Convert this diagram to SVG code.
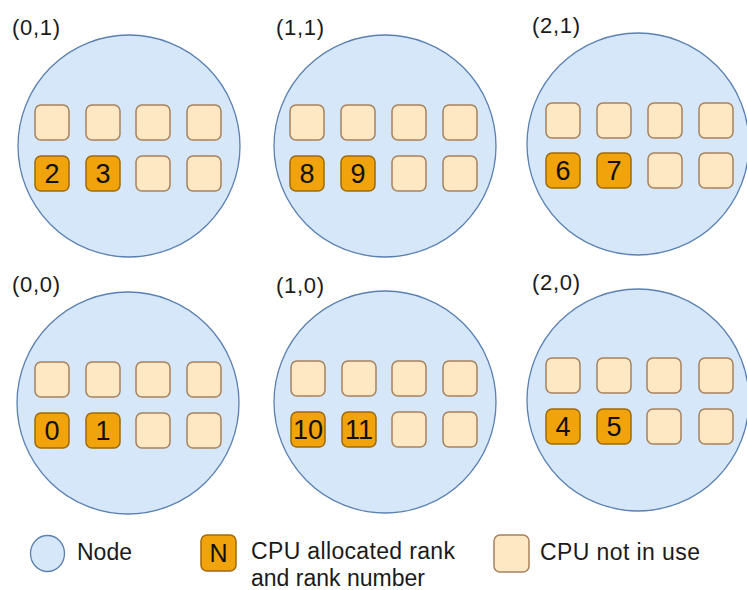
<svg xmlns="http://www.w3.org/2000/svg" width="747" height="590" viewBox="0 0 747 590">
<style>
.node{fill:#d6e7fa;stroke:#5b80b2;stroke-width:1.3}
.free{fill:#fee8c3;stroke:#a8815c;stroke-width:1.5}
.used{fill:#f0a30a;stroke:#a0690a;stroke-width:1.5}
.lbl{font-family:"Liberation Sans",Arial,sans-serif;font-size:22px;fill:#1a1a1a}
.num{font-family:"Liberation Sans",Arial,sans-serif;font-size:27px;fill:#111;text-anchor:middle}
.leg{font-family:"Liberation Sans",Arial,sans-serif;font-size:23px;fill:#1a1a1a}
</style>
<defs>
<rect id="sq" width="34" height="35" rx="6"/>
</defs>
<rect width="747" height="590" fill="#fff"/>

<g id="node-0-1">
<text class="lbl" x="12" y="35" textLength="48">(0,1)</text>
<circle class="node" cx="129" cy="146" r="111"/>
<use href="#sq" class="free" x="35" y="105"/><use href="#sq" class="free" x="86" y="105"/><use href="#sq" class="free" x="136" y="105"/><use href="#sq" class="free" x="187" y="105"/>
<use href="#sq" class="used" x="35" y="156"/><use href="#sq" class="used" x="86" y="156"/><use href="#sq" class="free" x="136" y="156"/><use href="#sq" class="free" x="187" y="156"/>
<text class="num" x="52" y="183">2</text><text class="num" x="103" y="183">3</text>
</g>

<g id="node-1-1">
<text class="lbl" x="276" y="35" textLength="48">(1,1)</text>
<circle class="node" cx="385" cy="146" r="111"/>
<use href="#sq" class="free" x="290" y="105"/><use href="#sq" class="free" x="341" y="105"/><use href="#sq" class="free" x="392" y="105"/><use href="#sq" class="free" x="443" y="105"/>
<use href="#sq" class="used" x="290" y="156"/><use href="#sq" class="used" x="341" y="156"/><use href="#sq" class="free" x="392" y="156"/><use href="#sq" class="free" x="443" y="156"/>
<text class="num" x="307" y="183">8</text><text class="num" x="358" y="183">9</text>
</g>

<g id="node-2-1">
<text class="lbl" x="532" y="33" textLength="48">(2,1)</text>
<circle class="node" cx="638" cy="144" r="111"/>
<use href="#sq" class="free" x="546" y="103"/><use href="#sq" class="free" x="597" y="103"/><use href="#sq" class="free" x="648" y="103"/><use href="#sq" class="free" x="699" y="103"/>
<use href="#sq" class="used" x="546" y="153"/><use href="#sq" class="used" x="597" y="153"/><use href="#sq" class="free" x="648" y="153"/><use href="#sq" class="free" x="699" y="153"/>
<text class="num" x="563" y="180">6</text><text class="num" x="614" y="180">7</text>
</g>

<g id="node-0-0">
<text class="lbl" x="12" y="292" textLength="48">(0,0)</text>
<circle class="node" cx="128" cy="403" r="111"/>
<use href="#sq" class="free" x="35" y="362"/><use href="#sq" class="free" x="86" y="362"/><use href="#sq" class="free" x="136" y="362"/><use href="#sq" class="free" x="187" y="362"/>
<use href="#sq" class="used" x="35" y="413"/><use href="#sq" class="used" x="86" y="413"/><use href="#sq" class="free" x="136" y="413"/><use href="#sq" class="free" x="187" y="413"/>
<text class="num" x="52" y="440">0</text><text class="num" x="103" y="440">1</text>
</g>

<g id="node-1-0">
<text class="lbl" x="276" y="293" textLength="48">(1,0)</text>
<circle class="node" cx="385" cy="402" r="111"/>
<use href="#sq" class="free" x="291" y="361"/><use href="#sq" class="free" x="342" y="361"/><use href="#sq" class="free" x="392" y="361"/><use href="#sq" class="free" x="443" y="361"/>
<use href="#sq" class="used" x="291" y="412"/><use href="#sq" class="used" x="342" y="412"/><use href="#sq" class="free" x="392" y="412"/><use href="#sq" class="free" x="443" y="412"/>
<text class="num" x="308" y="439">10</text><text class="num" x="359" y="439">11</text>
</g>

<g id="node-2-0">
<text class="lbl" x="532" y="290" textLength="48">(2,0)</text>
<circle class="node" cx="638" cy="400" r="111"/>
<use href="#sq" class="free" x="546" y="358"/><use href="#sq" class="free" x="597" y="358"/><use href="#sq" class="free" x="647" y="358"/><use href="#sq" class="free" x="699" y="358"/>
<use href="#sq" class="used" x="546" y="409"/><use href="#sq" class="used" x="597" y="409"/><use href="#sq" class="free" x="647" y="409"/><use href="#sq" class="free" x="699" y="409"/>
<text class="num" x="563" y="436">4</text><text class="num" x="614" y="436">5</text>
</g>

<g id="connectors"></g>

<g id="legend">
<g id="legend-node">
<ellipse class="node" cx="47.5" cy="553.5" rx="17" ry="18"/>
<text class="leg" x="77" y="560" textLength="55">Node</text>
</g>
<g id="legend-used">
<rect class="used" x="201" y="535" width="35" height="36" rx="6"/>
<text class="num" x="218.5" y="562" style="font-size:25px">N</text>
<text class="leg" x="251" y="559" textLength="204">CPU allocated rank</text>
<text class="leg" x="251" y="586">and rank number</text>
</g>
<g id="legend-free">
<rect class="free" x="494" y="535" width="35" height="37" rx="6"/>
<text class="leg" x="540" y="560" textLength="160">CPU not in use</text>
</g>
</g>
</svg>
